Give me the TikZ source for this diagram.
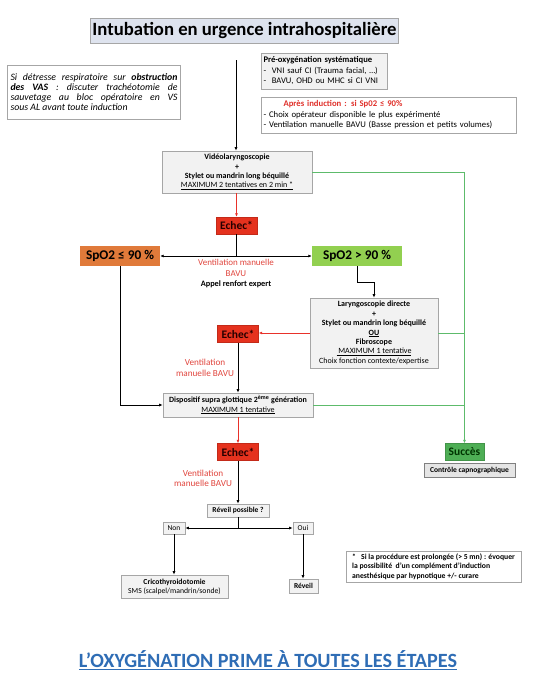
\documentclass[tikz,border=0pt]{standalone}
\usepackage{fontspec}
\setmainfont{Carlito}
\usepackage{tikz}
\usetikzlibrary{arrows.meta,positioning}

\definecolor{boxfill}{HTML}{F2F2F2}
\definecolor{boxline}{HTML}{A6A6A6}
\definecolor{titlefill}{HTML}{DEE3EE}
\definecolor{echecred}{HTML}{E5321E}
\definecolor{orangefill}{HTML}{E07A3A}
\definecolor{lightgreen}{HTML}{92D050}
\definecolor{succesgreen}{HTML}{4EAE55}
\definecolor{linegreen}{HTML}{5DBB6B}
\definecolor{linered}{HTML}{E8322A}
\definecolor{textred}{HTML}{E0453D}
\definecolor{titlered}{HTML}{E0302A}
\definecolor{bluetext}{HTML}{2F6DB5}

\begin{document}
\begin{tikzpicture}[x=1pt, y=-1pt,
        every node/.style={inner sep=2pt},
        box/.style={draw=boxline, fill=boxfill, line width=0.6pt, align=center,
            font=\fontsize{8}{9.4}\selectfont\bfseries},
        echec/.style={draw=echecred!85!black, fill=echecred, line width=0.4pt,
            minimum width=41pt, minimum height=17pt, text=black!85!red,
            font=\fontsize{11.5}{12}\selectfont\bfseries},
        spo/.style={minimum width=80pt, minimum height=20pt,
            font=\fontsize{13.3}{14}\selectfont\bfseries},
        note/.style={draw=boxline, fill=white, line width=0.6pt},
        redtext/.style={text=textred, align=center, font=\fontsize{9}{10.5}\selectfont},
        arrow/.style={-{Latex[length=3.5pt,width=3pt]}, line width=0.9pt},
        redarrow/.style={arrow, draw=linered, line width=0.8pt},
        greenline/.style={draw=linegreen, line width=0.7pt}]
        \useasboundingbox (0,0) rectangle (545,691);

        % Place nodes
        \node [draw=boxline, fill=titlefill, line width=0.6pt, minimum width=303pt, minimum height=25pt,
            font=\fontsize{18.7}{20}\selectfont\bfseries] (title) at (244.5,30.5) {Intubation en urgence intrahospitalière};
        \node [note, inner sep=3pt, text width=167pt, align=justify, minimum height=54pt,
            font=\fontsize{9.8}{10.2}\selectfont\itshape] (vas) at (94,92)
            {Si détresse respiratoire sur \textbf{obstruction}\linebreak \textbf{des VAS} : discuter trachéotomie de\linebreak sauvetage au bloc opératoire en VS\linebreak sous AL avant toute induction};
        \node [box, align=left, font=\fontsize{8.6}{10.5}\selectfont, text width=122pt, minimum height=36pt] (preox) at (324.5,71)
            {\textbf{Pré-oxygénation systématique}\\-\ \ VNI sauf CI (Trauma facial, …)\\-\ \ BAVU, OHD ou MHC si CI VNI};
        \node [box, fill=white, align=left, font=\fontsize{8.7}{10.5}\selectfont, text width=251pt, minimum height=36pt] (apres) at (389,115)
            {\hspace*{20pt}\textcolor{titlered}{\textbf{Après induction : si Sp02 ≤ 90\%}}\\- Choix opérateur disponible le plus expérimenté\\- Ventilation manuelle BAVU (Basse pression et petits volumes)};

        \node [box, minimum width=150pt, minimum height=42pt] (video) at (237,172)
            {Vidéolaryngoscopie\\+\\Stylet ou mandrin long béquillé\\{\mdseries\underline{MAXIMUM 2 tentatives en 2 min *}}};
        \node [echec] (echecA) at (236.5,225.5) {Echec*};
        \node [spo, fill=orangefill] (spolow) at (120,256) {SpO2 ≤ 90 \%};
        \node [spo, fill=lightgreen, minimum width=90pt] (spohigh) at (357,256) {SpO2 > 90 \%};
        \node [redtext] (ventA) at (236,274) {Ventilation manuelle\\BAVU\\\textcolor{black}{\fontsize{8.3}{10.5}\selectfont\textbf{Appel renfort expert}}};

        \node [box, minimum width=128pt, minimum height=70pt] (laryngo) at (374,333)
            {Laryngoscopie directe\\+\\Stylet ou mandrin long béquillé\\\underline{OU}\\Fibroscope\\{\mdseries\underline{ MAXIMUM 1 tentative}}\\{\mdseries Choix fonction contexte/expertise}};
        \node [echec] (echecB) at (238,334) {Echec*};
        \node [redtext, font=\fontsize{9.2}{10.5}\selectfont] (ventB) at (205,368) {Ventilation\\manuelle BAVU};

        \node [box, minimum width=150pt, minimum height=24pt] (dispo) at (238,405)
            {Dispositif supra glottique 2\textsuperscript{ème} génération\\{\mdseries\underline{MAXIMUM 1 tentative}}};
        \node [echec] (echecC) at (238,452) {Echec*};
        \node [redtext, font=\fontsize{9.2}{10.5}\selectfont] (ventC) at (203,478.5) {Ventilation\\manuelle BAVU};

        \node [echec, fill=succesgreen, draw=succesgreen!85!black, minimum width=39pt, text=black!80!green] (succes) at (464.5,452) {Succès};
        \node [box, fill=black!10, draw=black!50, minimum width=91pt, minimum height=14pt,
            font=\fontsize{7.5}{8}\selectfont\bfseries, below=2pt of succes, xshift=5pt] (capno) {Contrôle capnographique};

        \node [box, minimum width=62pt, minimum height=13pt, font=\fontsize{7.5}{8}\selectfont\bfseries] (reveilq) at (238,510.5) {Réveil possible ?};
        \node [box, minimum width=22pt, minimum height=12pt, font=\fontsize{7.5}{8}\selectfont] (non) at (174,528) {Non};
        \node [box, minimum width=20pt, minimum height=12pt, font=\fontsize{7.5}{8}\selectfont] (oui) at (303,528) {Oui};
        \node [box, minimum width=107pt, minimum height=23pt, font=\fontsize{7.7}{9}\selectfont] (crico) at (174.5,586.5)
            {\textbf{Cricothyroidotomie}\\SMS (scalpel/mandrin/sonde)};
        \node [box, minimum width=29pt, minimum height=14pt, font=\fontsize{7.5}{8}\selectfont\bfseries] (reveil) at (303.5,586) {Réveil};

        \node [note, align=left, minimum width=175pt, minimum height=31pt, font=\fontsize{7.7}{9.6}\selectfont\bfseries] (foot) at (433.5,566.5)
            {*\ \ \ Si la procédure est prolongée (> 5 mn) : évoquer\\la possibilité\ \ d’un complément d’induction\\anesthésique par hypnotique +/- curare};
        \node [text=bluetext, font=\fontsize{20.2}{22}\selectfont\bfseries] (motto) at (268,660) {\underline{L’OXYGÉNATION PRIME À TOUTES LES ÉTAPES}};

        % Draw edges
        \coordinate (start) at (236,60);
        \draw [arrow] (start) -- (start |- video.north);
        \draw [redarrow] (echecA.north |- video.south) -- (echecA.north);
        \draw [arrow] (echecA.south) |- (spolow.east);
        \draw [arrow] (echecA.south) |- (spohigh.west);
        \draw [arrow] (spohigh.south) -- ++(0,16) -| (laryngo.north);
        \draw [redarrow] (laryngo.west) -- (laryngo.west -| echecB.east);
        \draw [arrow] (echecB.south) -- (echecB.south |- dispo.north);
        \draw [arrow] (spolow.south) |- (dispo.west);
        \draw [redarrow] (echecC.north |- dispo.south) -- (echecC.north);
        \draw [arrow] (echecC.south) -- (echecC.south |- reveilq.north);
        \draw [arrow] (reveilq.south) |- (non.east);
        \draw [arrow] (reveilq.south) |- (oui.west);
        \draw [arrow] (non.south) -- (non.south |- crico.north);
        \draw [arrow] (oui.south) -- (oui.south |- reveil.north);

        \draw [greenline, -{Latex[length=3.5pt,width=3pt]}] (video.east) -| (succes.north);
        \draw [greenline] (laryngo.east) -- (laryngo.east -| succes.north);
        \draw [greenline] (dispo.east) -- (dispo.east -| succes.north);

    \end{tikzpicture}
\end{document}
